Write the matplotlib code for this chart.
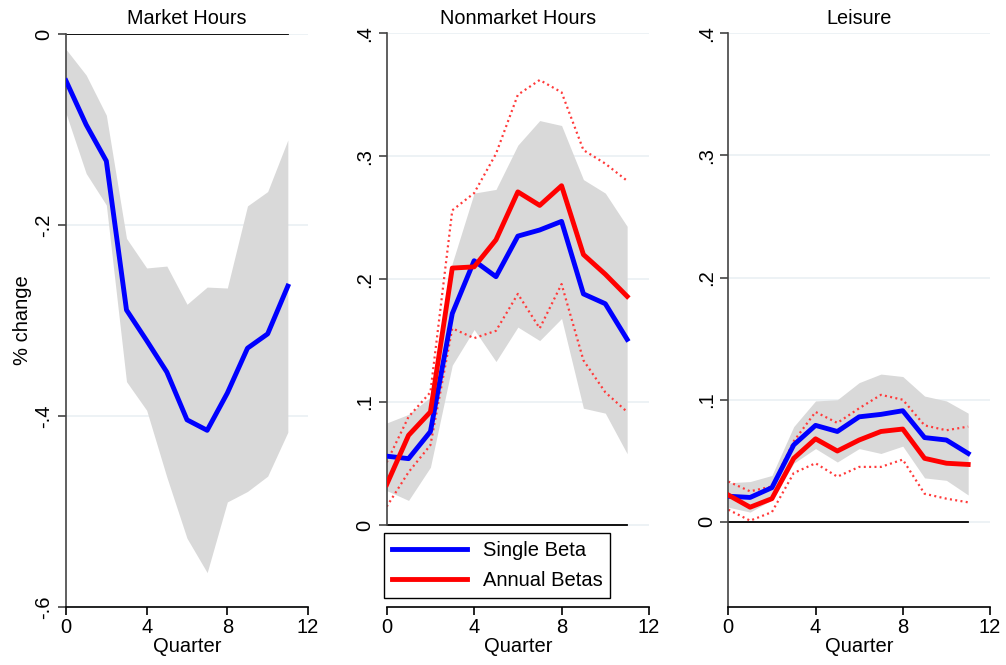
import matplotlib
matplotlib.use('Agg')
import matplotlib.pyplot as plt

plt.rcParams['font.family'] = ['Liberation Sans', 'DejaVu Sans']
plt.rcParams['font.size'] = 14.5

# Trimestres
quarters = list(range(12))

# Market hours (single beta)
market_est = [-0.049, -0.095, -0.133, -0.289, -0.321, -0.354, -0.404, -0.415, -0.376, -0.329, -0.314, -0.264]
market_hi = [-0.016, -0.043, -0.085, -0.214, -0.245, -0.243, -0.283, -0.265, -0.266, -0.180, -0.165, -0.111]
market_lo = [-0.083, -0.146, -0.179, -0.364, -0.394, -0.464, -0.528, -0.564, -0.490, -0.479, -0.463, -0.417]

# Nonmarket hours
nonmkt_single = [0.056, 0.054, 0.076, 0.172, 0.215, 0.202, 0.235, 0.240, 0.247, 0.188, 0.180, 0.151]
nonmkt_single_hi = [0.083, 0.090, 0.104, 0.213, 0.270, 0.273, 0.309, 0.329, 0.325, 0.281, 0.270, 0.243]
nonmkt_single_lo = [0.028, 0.020, 0.047, 0.130, 0.159, 0.133, 0.161, 0.150, 0.168, 0.095, 0.091, 0.058]
nonmkt_annual = [0.033, 0.073, 0.092, 0.209, 0.210, 0.232, 0.271, 0.260, 0.276, 0.220, 0.204, 0.186]
nonmkt_annual_hi = [0.051, 0.088, 0.108, 0.256, 0.270, 0.302, 0.350, 0.362, 0.352, 0.305, 0.294, 0.280]
nonmkt_annual_lo = [0.015, 0.043, 0.065, 0.160, 0.152, 0.158, 0.188, 0.160, 0.196, 0.134, 0.108, 0.092]

# Leisure
leis_single = [0.021, 0.020, 0.028, 0.063, 0.079, 0.074, 0.086, 0.088, 0.091, 0.069, 0.067, 0.056]
leis_single_hi = [0.032, 0.033, 0.038, 0.078, 0.099, 0.100, 0.114, 0.121, 0.119, 0.103, 0.099, 0.089]
leis_single_lo = [0.012, 0.008, 0.018, 0.048, 0.060, 0.049, 0.060, 0.056, 0.062, 0.036, 0.034, 0.022]
leis_annual = [0.022, 0.012, 0.019, 0.052, 0.068, 0.058, 0.067, 0.074, 0.076, 0.052, 0.048, 0.047]
leis_annual_hi = [0.033, 0.025, 0.029, 0.066, 0.090, 0.081, 0.093, 0.104, 0.100, 0.079, 0.075, 0.078]
leis_annual_lo = [0.010, 0.001, 0.008, 0.040, 0.048, 0.037, 0.045, 0.045, 0.051, 0.023, 0.019, 0.016]

zeros = [0.0] * 12

GRAY = '#d9d9d9'
GRID = '#eaf0f4'
SPINE = '#444444'
DOTS = (0, (0.9, 1.5))
DOTRED = '#ff3a3a'

fig = plt.figure(figsize=(10.06, 6.65), dpi=100)
W, H = 1006, 665


def make_ax(left, right, top, bottom):
    return fig.add_axes([left / W, 1 - bottom / H, (right - left) / W, (bottom - top) / H])


def style(ax, yticks, ylabels, ylim, spine_lo=None):
    ax.set_xlim(0, 12)
    ax.set_ylim(*ylim)
    ax.set_xticks([0, 4, 8, 12])
    ax.set_yticks(yticks)
    ax.set_yticklabels(ylabels, rotation=90, va='center')
    for t in yticks:
        ax.axhline(t, color=GRID, lw=1.2, zorder=0)
    ax.spines['top'].set_visible(False)
    ax.spines['right'].set_visible(False)
    ax.spines['left'].set_color(SPINE)
    ax.spines['left'].set_linewidth(1.2)
    ax.spines['bottom'].set_linewidth(1.2)
    if spine_lo is not None:
        ax.spines['left'].set_bounds(spine_lo, ylim[1])
    ax.tick_params(axis='y', length=6, width=1.2, color=SPINE, pad=3, labelsize=14.5)
    ax.tick_params(axis='x', length=6, width=1.2, pad=2, labelsize=14.5)
    ax.set_xlabel('Quarter', labelpad=0)
    ax.plot(quarters, zeros, color='black', lw=1.3, zorder=2)


# Panel 1
ax1 = make_ax(66, 308, 34, 607)
style(ax1, [0, -0.2, -0.4, -0.6], ['0', '-.2', '-.4', '-.6'], (-0.6, 0))
ax1.fill_between(quarters, market_lo, market_hi, color=GRAY, lw=0, zorder=1)
ax1.plot(quarters, market_est, color='blue', lw=3.5, zorder=3)
ax1.set_title('Market Hours', fontsize=14.3, pad=7)
ax1.set_ylabel('% change', labelpad=2)

# Panel 2
ax2 = make_ax(386.7, 649, 33.3, 607)
style(ax2, [0, 0.1, 0.2, 0.3, 0.4], ['0', '.1', '.2', '.3', '.4'], (-0.0667, 0.4), spine_lo=0)
ax2.fill_between(quarters, nonmkt_single_lo, nonmkt_single_hi, color=GRAY, lw=0, zorder=1)
ax2.plot(quarters, nonmkt_annual_hi, color=DOTRED, lw=1.6, ls=DOTS, zorder=2)
ax2.plot(quarters, nonmkt_annual_lo, color=DOTRED, lw=1.6, ls=DOTS, zorder=2)
l1, = ax2.plot(quarters, nonmkt_single, color='blue', lw=3.5, zorder=3)
l2, = ax2.plot(quarters, nonmkt_annual, color='red', lw=3.5, zorder=4)
ax2.set_title('Nonmarket Hours', fontsize=14.3, pad=7)
leg = ax2.legend([l1, l2], ['Single Beta', 'Annual Betas'],
                 loc='upper left', bbox_to_anchor=(384 / W, 1 - 532.7 / H),
                 bbox_transform=fig.transFigure, fancybox=False, edgecolor='black',
                 framealpha=1, borderaxespad=0, handlelength=3.7, handletextpad=0.8,
                 labelspacing=0.55, borderpad=0.4, fontsize=14.5)
leg.get_frame().set_linewidth(1.0)

# Panel 3
ax3 = make_ax(728.3, 990, 33.3, 607)
style(ax3, [0, 0.1, 0.2, 0.3, 0.4], ['0', '.1', '.2', '.3', '.4'], (-0.0697, 0.4))
ax3.fill_between(quarters, leis_single_lo, leis_single_hi, color=GRAY, lw=0, zorder=1)
ax3.plot(quarters, leis_annual_hi, color=DOTRED, lw=1.6, ls=DOTS, zorder=2)
ax3.plot(quarters, leis_annual_lo, color=DOTRED, lw=1.6, ls=DOTS, zorder=2)
ax3.plot(quarters, leis_single, color='blue', lw=3.5, zorder=3)
ax3.plot(quarters, leis_annual, color='red', lw=3.5, zorder=4)
ax3.set_title('Leisure', fontsize=14.3, pad=7)

fig.savefig('out.png', dpi=100)
